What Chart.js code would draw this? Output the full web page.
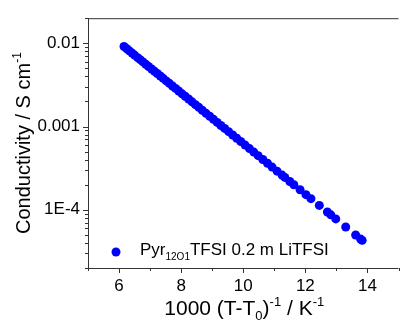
<!DOCTYPE html>
<html>
<head>
<meta charset="utf-8">
<script src="https://cdn.jsdelivr.net/npm/chart.js@4/dist/chart.umd.min.js"></script>
<style>
  html, body { margin: 0; padding: 0; background: #fff; overflow: hidden; }
  canvas { display: block; }
</style>
</head>
<body>
<canvas id="condChart" width="403" height="322"></canvas>
<script>
// 1000/(T-T0) in K^-1
const invTemp = [6.16, 6.25, 6.33, 6.42, 6.5, 6.6, 6.68, 6.77, 6.86, 6.95,
  7.05, 7.14, 7.23, 7.33, 7.42, 7.52, 7.62, 7.72, 7.82, 7.92,
  8.03, 8.13, 8.24, 8.35, 8.46, 8.57, 8.68, 8.8, 8.92, 9.04,
  9.16, 9.28, 9.4, 9.53, 9.66, 9.79, 9.92, 10.06, 10.2, 10.34,
  10.48, 10.63, 10.78, 10.93, 11.09, 11.25, 11.34, 11.5, 11.63, 11.83,
  12.02, 12.18, 12.45, 12.71, 12.82, 12.98, 13.3, 13.62, 13.78, 13.83];
// conductivity in S cm^-1
const conductivity = [0.00914, 0.00859, 0.00811, 0.00762, 0.00721, 0.00672, 0.00636, 0.00597, 0.00560, 0.00526,
  0.00491, 0.00461, 0.00433, 0.00404, 0.00379, 0.00353, 0.00330, 0.00307, 0.00287, 0.00267,
  0.00247, 0.00231, 0.00214, 0.00198, 0.00183, 0.00170, 0.00157, 0.00144, 0.00133, 0.00122,
  0.00112, 0.00103, 0.000950, 0.000868, 0.000792, 0.000723, 0.000661, 0.000599, 0.000543, 0.000493,
  0.000447, 0.000402, 0.000362, 0.000326, 0.000291, 0.000261, 0.000245, 0.000219, 0.000200, 0.000174,
  0.000152, 0.000136, 0.000113, 0.0000940, 0.0000870, 0.0000778, 0.0000622, 0.0000498, 0.0000445, 0.0000430];

const xTicks = [6, 8, 10, 12, 14];
const xMinorTicks = [5, 7, 9, 11, 13, 15];
const yTicks = [0.01, 0.001, 1e-4];
const yTickLabels = ['0.01', '0.001', '1E-4'];
const yMinorTicks = [2e-5, 3e-5, 4e-5, 5e-5, 6e-5, 7e-5, 8e-5, 9e-5,
  2e-4, 3e-4, 4e-4, 5e-4, 6e-4, 7e-4, 8e-4, 9e-4,
  2e-3, 3e-3, 4e-3, 5e-3, 6e-3, 7e-3, 8e-3, 9e-3, 2e-2];

const FONT = '"Liberation Sans", Arial, sans-serif';
const BLUE = '#0000ff';

// draw a run of text pieces with different sizes / baseline shifts
function richText(ctx, parts, x, y) {
  let w = 0;
  parts.forEach(p => { ctx.font = p.size + 'px ' + FONT; w += ctx.measureText(p.t).width; });
  let cx = x - w / 2;
  parts.forEach(p => {
    ctx.font = p.size + 'px ' + FONT;
    ctx.fillText(p.t, cx, y + (p.dy || 0));
    cx += ctx.measureText(p.t).width;
  });
}

const frame = {
  id: 'frame',
  afterDraw(chart) {
    const ctx = chart.ctx;
    const a = chart.chartArea;
    const xs = chart.scales.x, ys = chart.scales.y;
    ctx.save();
    ctx.strokeStyle = '#333';
    ctx.lineWidth = 1;
    ctx.beginPath();
    // top, left, bottom (no right border)
    ctx.moveTo(a.left, a.top + 0.5); ctx.lineTo(a.right, a.top + 0.5);
    ctx.moveTo(a.left + 0.5, a.top); ctx.lineTo(a.left + 0.5, a.bottom);
    ctx.moveTo(a.left, a.bottom + 0.5); ctx.lineTo(a.right, a.bottom + 0.5);
    xTicks.forEach(v => {
      const px = Math.round(xs.getPixelForValue(v)) + 0.5;
      ctx.moveTo(px, a.bottom); ctx.lineTo(px, a.bottom + 5);
    });
    xMinorTicks.forEach(v => {
      const px = Math.round(xs.getPixelForValue(v)) + 0.5;
      ctx.moveTo(px, a.bottom); ctx.lineTo(px, a.bottom + 3);
    });
    yTicks.forEach(v => {
      const py = Math.round(ys.getPixelForValue(v)) + 0.5;
      ctx.moveTo(a.left, py); ctx.lineTo(a.left - 5, py);
    });
    yMinorTicks.forEach(v => {
      const py = Math.round(ys.getPixelForValue(v)) + 0.5;
      ctx.moveTo(a.left, py); ctx.lineTo(a.left - 3, py);
    });
    ctx.stroke();

    ctx.fillStyle = '#000';
    ctx.textAlign = 'left';
    ctx.textBaseline = 'alphabetic';
    // x title
    richText(ctx, [
      {t: '1000 (T-T', size: 21},
      {t: '0', size: 13, dy: 5},
      {t: ')', size: 21},
      {t: '-1', size: 13, dy: -9},
      {t: ' / K', size: 21},
      {t: '-1', size: 13, dy: -9}
    ], (a.left + a.right) / 2 + 1, 315);
    // y title
    ctx.save();
    ctx.translate(30, (a.top + a.bottom) / 2);
    ctx.rotate(-Math.PI / 2);
    richText(ctx, [
      {t: 'Conductivity / S cm', size: 20},
      {t: '-1', size: 12, dy: -9}
    ], 0, 0);
    ctx.restore();

    // legend
    ctx.fillStyle = BLUE;
    ctx.beginPath();
    ctx.arc(116, 252, 4.5, 0, Math.PI * 2);
    ctx.fill();
    ctx.fillStyle = '#000';
    const parts = [
      {t: 'Pyr', size: 17},
      {t: '12O1', size: 10, dy: 5},
      {t: 'TFSI 0.2 m LiTFSI', size: 17}
    ];
    let cx = 140;
    parts.forEach(p => {
      ctx.font = p.size + 'px ' + FONT;
      ctx.fillText(p.t, cx, 255 + (p.dy || 0));
      cx += ctx.measureText(p.t).width;
    });
    ctx.restore();
  }
};

new Chart(document.getElementById('condChart'), {
  type: 'scatter',
  data: {
    datasets: [{
      label: 'Pyr12O1TFSI 0.2 m LiTFSI',
      data: invTemp.map((x, i) => ({x: x, y: conductivity[i]})),
      backgroundColor: BLUE,
      borderWidth: 0,
      pointRadius: 4.5,
      pointHoverRadius: 4.5
    }]
  },
  options: {
    responsive: false,
    animation: false,
    events: [],
    layout: { padding: { top: 14, right: 0, left: 0, bottom: 0 } },
    plugins: { legend: { display: false }, tooltip: { enabled: false } },
    scales: {
      x: {
        type: 'linear',
        min: 5,
        max: 15,
        afterBuildTicks: s => { s.ticks = xTicks.map(v => ({value: v})); },
        afterFit: s => { s.height = 54; },
        grid: { display: false, drawTicks: false },
        border: { display: false },
        ticks: { color: '#000', font: { family: FONT, size: 17 }, padding: 8, maxRotation: 0, autoSkip: false }
      },
      y: {
        type: 'logarithmic',
        min: 2e-5,
        max: 0.02,
        afterBuildTicks: s => { s.ticks = yTicks.map(v => ({value: v})); },
        afterFit: s => { s.width = 88; },
        grid: { display: false, drawTicks: false },
        border: { display: false },
        ticks: {
          color: '#000',
          font: { family: FONT, size: 17 },
          padding: 8,
          autoSkip: false,
          callback: (v) => yTickLabels[yTicks.indexOf(v)]
        }
      }
    }
  },
  plugins: [frame]
});
</script>
</body>
</html>
